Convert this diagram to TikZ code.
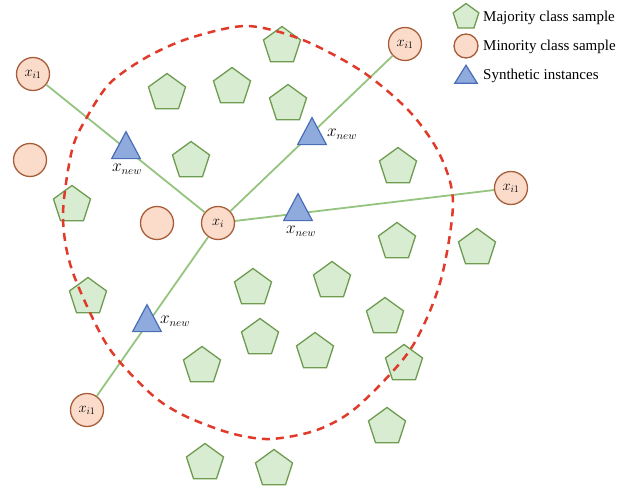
\documentclass[tikz,border=0pt]{standalone}
\usepackage{fontspec}
\setmainfont{Liberation Serif}
\usetikzlibrary{shapes.geometric}
\definecolor{majfill}{HTML}{D8ECD2}
\definecolor{majdraw}{HTML}{6E9B50}
\definecolor{minfill}{HTML}{FBDCCB}
\definecolor{mindraw}{HTML}{A85C38}
\definecolor{synfill}{HTML}{8FAADC}
\definecolor{syndraw}{HTML}{4A6DB8}
\definecolor{linkc}{HTML}{95C47F}
\definecolor{dashc}{HTML}{E03A2A}
\begin{document}
\begin{tikzpicture}[x=1pt,y=-1pt,
 maj/.style={regular polygon, regular polygon sides=5, minimum size=39pt, inner sep=0pt, fill=majfill, draw=majdraw, line width=1.3pt},
 mino/.style={circle, minimum size=33pt, inner sep=0pt, fill=minfill, draw=mindraw, line width=1.3pt, font=\fontsize{14}{16}\selectfont},
 syn/.style={isosceles triangle, shape border rotate=90, isosceles triangle apex angle=56, minimum height=27pt, inner sep=0pt, fill=synfill, draw=syndraw, line width=1.2pt},
 link/.style={draw=linkc, line width=1.8pt},
 lbl/.style={font=\fontsize{16}{18}\selectfont, inner sep=0pt},
 legtext/.style={anchor=west, font=\fontsize{15}{17}\selectfont, inner sep=0pt}]
\useasboundingbox (0,0) rectangle (618,489);
% majority samples
\node[maj] (m1) at (282,46) {};
\node[maj] (m2) at (167,93) {};
\node[maj] (m3) at (232,87) {};
\node[maj] (m4) at (288,104) {};
\node[maj] (m5) at (191,161) {};
\node[maj] (m6) at (398,167) {};
\node[maj] (m7) at (72,205) {};
\node[maj] (m8) at (397,242) {};
\node[maj] (m9) at (477,248) {};
\node[maj] (m10) at (253,288) {};
\node[maj] (m11) at (332,281) {};
\node[maj] (m12) at (88,297) {};
\node[maj] (m13) at (385,317) {};
\node[maj] (m14) at (260,338) {};
\node[maj] (m15) at (315,352) {};
\node[maj] (m16) at (202,366) {};
\node[maj] (m17) at (404,364) {};
\node[maj] (m18) at (387,427) {};
\node[maj] (m19) at (205,463) {};
\node[maj] (m20) at (274,469) {};
% minority samples
\node[mino] (o1) at (30,160) {};
\node[mino] (o2) at (157,223) {};
\node[mino] (xi) at (218,223) {$x_i$};
\node[mino] (a1) at (33,74) {$x_{i1}$};
\node[mino] (a2) at (405,44) {$x_{i1}$};
\node[mino] (a3) at (511,188) {$x_{i1}$};
\node[mino] (a4) at (87,410) {$x_{i1}$};
% links
\draw[link] (xi) -- (a1);
\draw[link] (xi) -- (a2);
\draw[link] (xi) -- (a3);
\draw[link] (xi) -- (a4);
% synthetic instances
\node[syn] (s1) at (126,150) {};
\node[syn] (s2) at (312,136) {};
\node[syn] (s3) at (298,212) {};
\node[syn] (s4) at (147,323) {};
\node[lbl] (l1) at (127,169) {$x_{new}$};
\node[lbl] (l2) at (342,134) {$x_{new}$};
\node[lbl] (l3) at (301,231) {$x_{new}$};
\node[lbl] (l4) at (175,321) {$x_{new}$};
% dashed neighbourhood
\draw[dashc, line width=2.5pt, dash pattern=on 8pt off 6pt]
  plot[smooth cycle] coordinates {(247,26) (303,40) (363,72) (410,112) (440,155) (453,203) (440,283) (410,350) (357,407) (317,430) (270,439) (230,433) (183,415) (150,393) (107,345) (72,270) (63,215) (72,150) (87,117) (110,83) (147,57) (190,38)};
% legend
\node[maj, minimum size=27pt] (k1) at (466,17) {};
\node[mino, minimum size=24pt] (k2) at (466,46) {};
\node[syn, minimum height=18pt, isosceles triangle apex angle=64] (k3) at (466,77) {};
\node[legtext] (t1) at (483,18) {Majority class sample};
\node[legtext] (t2) at (483,47) {Minority class sample};
\node[legtext] (t3) at (483,76) {Synthetic instances};
\end{tikzpicture}
\end{document}
